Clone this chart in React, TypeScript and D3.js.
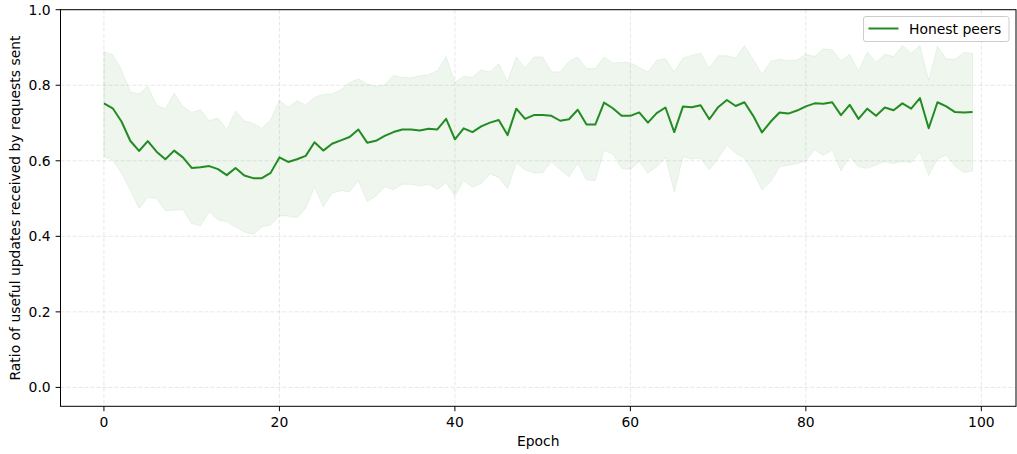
import React from "react";
import * as d3 from "d3";

const epochs: number[] = Array.from({ length: 100 }, (_, i) => i);

const meanValues: number[] = [
  0.752, 0.739, 0.704, 0.653, 0.626, 0.652, 0.624, 0.604, 0.627, 0.609,
  0.581, 0.583, 0.586, 0.578, 0.562, 0.581, 0.561, 0.554, 0.554, 0.568,
  0.609, 0.597, 0.604, 0.613, 0.649, 0.627, 0.645, 0.654, 0.663, 0.683,
  0.648, 0.653, 0.666, 0.676, 0.683, 0.683, 0.680, 0.685, 0.683, 0.711,
  0.657, 0.686, 0.676, 0.691, 0.701, 0.708, 0.668, 0.738, 0.711, 0.721,
  0.721, 0.719, 0.706, 0.710, 0.735, 0.696, 0.696, 0.754, 0.739, 0.719,
  0.719, 0.728, 0.701, 0.726, 0.741, 0.676, 0.744, 0.742, 0.747, 0.710,
  0.742, 0.761, 0.745, 0.755, 0.719, 0.675, 0.704, 0.728, 0.725, 0.733,
  0.744, 0.752, 0.751, 0.755, 0.721, 0.748, 0.711, 0.738, 0.719, 0.741,
  0.734, 0.752, 0.738, 0.766, 0.686, 0.755, 0.744, 0.729, 0.728, 0.729,
];

const upperValues: number[] = [
  0.889, 0.881, 0.841, 0.783, 0.777, 0.797, 0.748, 0.737, 0.779, 0.744,
  0.728, 0.735, 0.706, 0.713, 0.683, 0.732, 0.706, 0.699, 0.686, 0.708,
  0.761, 0.741, 0.759, 0.748, 0.768, 0.776, 0.777, 0.788, 0.807, 0.817,
  0.803, 0.797, 0.801, 0.826, 0.821, 0.820, 0.825, 0.828, 0.839, 0.876,
  0.807, 0.823, 0.821, 0.841, 0.835, 0.857, 0.810, 0.875, 0.845, 0.875,
  0.875, 0.836, 0.835, 0.863, 0.875, 0.844, 0.844, 0.875, 0.859, 0.860,
  0.860, 0.847, 0.835, 0.866, 0.870, 0.835, 0.872, 0.879, 0.885, 0.845,
  0.878, 0.878, 0.872, 0.905, 0.869, 0.829, 0.863, 0.869, 0.865, 0.867,
  0.882, 0.876, 0.896, 0.894, 0.865, 0.882, 0.838, 0.888, 0.861, 0.882,
  0.876, 0.905, 0.885, 0.905, 0.813, 0.903, 0.870, 0.869, 0.887, 0.885,
];

const lowerValues: number[] = [
  0.611, 0.602, 0.567, 0.523, 0.474, 0.503, 0.500, 0.468, 0.469, 0.471,
  0.434, 0.428, 0.465, 0.443, 0.439, 0.425, 0.412, 0.405, 0.425, 0.430,
  0.454, 0.454, 0.449, 0.474, 0.531, 0.478, 0.514, 0.521, 0.518, 0.547,
  0.492, 0.507, 0.531, 0.523, 0.538, 0.538, 0.533, 0.538, 0.524, 0.542,
  0.507, 0.547, 0.530, 0.540, 0.565, 0.556, 0.526, 0.595, 0.576, 0.568,
  0.568, 0.598, 0.576, 0.558, 0.593, 0.549, 0.548, 0.627, 0.618, 0.580,
  0.577, 0.598, 0.567, 0.584, 0.609, 0.518, 0.611, 0.604, 0.607, 0.576,
  0.607, 0.641, 0.620, 0.607, 0.571, 0.523, 0.545, 0.584, 0.588, 0.592,
  0.600, 0.629, 0.614, 0.629, 0.573, 0.611, 0.584, 0.580, 0.589, 0.598,
  0.593, 0.598, 0.595, 0.624, 0.561, 0.605, 0.615, 0.586, 0.569, 0.573,
];

const xTicks: number[] = [0, 20, 40, 60, 80, 100];
const yTicks: number[] = [0.0, 0.2, 0.4, 0.6, 0.8, 1.0];
const seriesLabel = "Honest peers";
const xLabel = "Epoch";
const yLabel = "Ratio of useful updates received by requests sent";

const W = 1017;
const H = 454;
const left = 60.5;
const right = 1016;
const top = 9.7;
const bottom = 406.3;
const color = "#228B22";
const font = "DejaVu Sans, sans-serif";
const fs = 13.9;

export default function App() {
  const x = d3.scaleLinear().domain([-4.95, 103.95]).range([left, right]);
  const y = d3.scaleLinear().domain([-0.05, 1.0]).range([bottom, top]);

  const rows = epochs.map((e, i) => ({
    e,
    m: meanValues[i],
    lo: lowerValues[i],
    hi: upperValues[i],
  }));

  const area = d3
    .area<(typeof rows)[number]>()
    .x((d) => x(d.e))
    .y0((d) => y(d.lo))
    .y1((d) => y(d.hi));
  const line = d3
    .line<(typeof rows)[number]>()
    .x((d) => x(d.e))
    .y((d) => y(d.m));

  return (
    <svg
      width={W}
      height={H}
      style={{ position: "absolute", left: 0, top: 0, background: "#fff" }}
      fontFamily={font}
    >
      <rect x={0} y={0} width={W} height={H} fill="#fff" />
      {/* grid */}
      <g stroke="#b0b0b0" strokeOpacity={0.3} strokeWidth={1} strokeDasharray="4,2">
        {xTicks.map((t) => (
          <line key={"gx" + t} x1={x(t)} x2={x(t)} y1={top} y2={bottom} />
        ))}
        {yTicks.map((t) => (
          <line key={"gy" + t} x1={left} x2={right} y1={y(t)} y2={y(t)} />
        ))}
      </g>
      {/* band */}
      <path
        d={area(rows) || ""}
        fill={color}
        fillOpacity={0.08}
        stroke={color}
        strokeOpacity={0.08}
        strokeWidth={1}
      />
      {/* mean line */}
      <path d={line(rows) || ""} fill="none" stroke={color} strokeWidth={2} strokeLinejoin="round" />
      {/* frame */}
      <rect
        x={left}
        y={top}
        width={right - left}
        height={bottom - top}
        fill="none"
        stroke="#000"
        strokeWidth={1}
      />
      {/* x ticks */}
      {xTicks.map((t) => (
        <g key={"xt" + t}>
          <line x1={x(t)} x2={x(t)} y1={bottom} y2={bottom + 4.9} stroke="#000" strokeWidth={1} />
          <text x={x(t)} y={427} textAnchor="middle" fontSize={fs} fill="#000">
            {t}
          </text>
        </g>
      ))}
      {/* y ticks */}
      {yTicks.map((t) => (
        <g key={"yt" + t}>
          <line x1={left - 4.9} x2={left} y1={y(t)} y2={y(t)} stroke="#000" strokeWidth={1} />
          <text
            x={left - 9.8}
            y={y(t)}
            dy="0.36em"
            textAnchor="end"
            fontSize={fs}
            fill="#000"
          >
            {t.toFixed(1)}
          </text>
        </g>
      ))}
      {/* axis labels */}
      <text x={(left + right) / 2} y={446} textAnchor="middle" fontSize={fs} fill="#000">
        {xLabel}
      </text>
      <text
        transform={`translate(19.5,${(top + bottom) / 2}) rotate(-90)`}
        textAnchor="middle"
        fontSize={fs}
        fill="#000"
      >
        {yLabel}
      </text>
      {/* legend */}
      <g>
        <rect
          x={863.5}
          y={16.5}
          width={145.5}
          height={25}
          rx={2.5}
          fill="#fff"
          fillOpacity={0.8}
          stroke="#cccccc"
          strokeWidth={1}
        />
        <line x1={868.5} x2={898.5} y1={28.5} y2={28.5} stroke={color} strokeWidth={2} />
        <text x={909} y={28.5} dy="0.36em" fontSize={fs} fill="#000">
          {seriesLabel}
        </text>
      </g>
    </svg>
  );
}
